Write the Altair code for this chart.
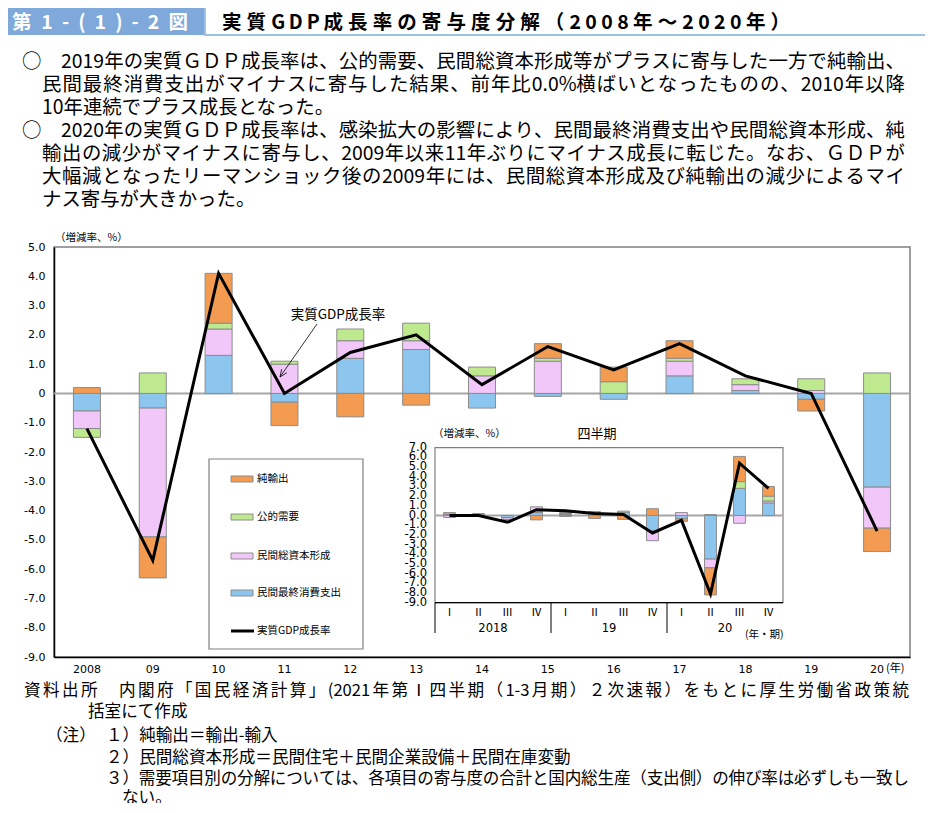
import math
import altair as alt
import pandas as pd

# ---------------- data ----------------
years = ["2008", "09", "10", "11", "12", "13", "14", "15", "16", "17", "18", "19", "20"]
consumption = [-0.6, -0.5, 1.3, -0.3, 1.2, 1.5, -0.5, -0.1, -0.2, 0.6, 0.1, -0.2, -3.2]
investment = [-0.6, -4.4, 0.9, 1.0, 0.6, 0.3, 0.6, 1.1, 0.0, 0.5, 0.2, 0.1, -1.4]
public = [-0.3, 0.7, 0.2, 0.1, 0.4, 0.6, 0.3, 0.1, 0.4, 0.1, 0.2, 0.4, 0.7]
net_exports = [0.2, -1.4, 1.7, -0.8, -0.8, -0.4, 0.0, 0.5, 0.5, 0.6, 0.0, -0.4, -0.8]
gdp_growth = [-1.2, -5.7, 4.1, 0.0, 1.4, 2.0, 0.3, 1.6, 0.8, 1.7, 0.6, 0.0, -4.7]

quarters = ["2018-1", "2018-2", "2018-3", "2018-4", "2019-1", "2019-2", "2019-3", "2019-4",
            "2020-1", "2020-2", "2020-3", "2020-4"]
quarter_labels = ["Ⅰ", "Ⅱ", "Ⅲ", "Ⅳ"] * 3
quarter_years = ["2018", "19", "20"]
q_consumption = [0.0, 0.1, -0.2, 0.3, -0.1, 0.2, 0.3, -1.6, -0.3, -4.5, 2.8, 1.3]
q_investment = [-0.2, 0.0, -0.2, 0.6, 0.1, 0.1, 0.0, -1.0, 0.3, -0.9, -0.8, 0.2]
q_public = [0.1, 0.1, 0.0, 0.0, 0.1, 0.1, 0.15, 0.0, 0.0, 0.1, 0.7, 0.5]
q_net_exports = [0.2, -0.1, -0.1, -0.45, 0.1, -0.3, -0.4, 0.7, -0.3, -2.8, 2.6, 1.0]
q_gdp = [0.0, 0.0, -0.7, 0.6, 0.5, 0.2, 0.1, -1.8, -0.5, -8.1, 5.4, 2.8]

series = ["民間最終消費支出", "民間総資本形成", "公的需要", "純輸出"]
colors = ["#8CC6EF", "#F1C6F9", "#BEE98F", "#F39B50"]
legend_order = ["純輸出", "公的需要", "民間総資本形成", "民間最終消費支出"]
line_name = "実質GDP成長率"

main_ticks = list(range(-9, 6))
inset_ticks = list(range(-9, 8))

header_tag = "第1-(1)-2図"
header_title = "実質GDP成長率の寄与度分解（2008年～2020年）"
para_lines = [
    "○　2019年の実質ＧＤＰ成長率は、公的需要、民間総資本形成等がプラスに寄与した一方で純輸出、",
    "民間最終消費支出がマイナスに寄与した結果、前年比0.0%横ばいとなったものの、2010年以降",
    "10年連続でプラス成長となった。",
    "○　2020年の実質ＧＤＰ成長率は、感染拡大の影響により、民間最終消費支出や民間総資本形成、純",
    "輸出の減少がマイナスに寄与し、2009年以来11年ぶりにマイナス成長に転じた。なお、ＧＤＰが",
    "大幅減となったリーマンショック後の2009年には、民間総資本形成及び純輸出の減少によるマイ",
    "ナス寄与が大きかった。",
]
para_justified = [True, True, False, True, True, True, False]
footer_lines = [
    "資料出所　内閣府「国民経済計算」(2021年第Ⅰ四半期（1-3月期）２次速報）をもとに厚生労働省政策統",
    "括室にて作成",
    "（注）",
    "１）純輸出＝輸出-輸入",
    "２）民間総資本形成＝民間住宅＋民間企業設備＋民間在庫変動",
    "３）需要項目別の分解については、各項目の寄与度の合計と国内総生産（支出側）の伸び率は必ずしも一致し",
    "ない。",
]
footer_x = [24, 88, 46, 106, 106, 106, 122]
footer_y = [691, 712, 736, 736, 758, 779, 798]
footer_justified = [True, False, False, False, False, True, False]

# ---------------- layout helpers ----------------
OX, OY = 54, 247          # page position of main plot origin
W, H = 856, 410
JP = "Noto Sans CJK JP"
NUM = "DejaVu Sans"


def cx(x):
    return x - OX


def cy(y):
    return y - OY


dummy = pd.DataFrame({"d": [0]})

ASCII_W = {".": 0.27, ",": 0.27, "%": 0.86, "(": 0.33, ")": 0.33, "-": 0.33, "G": 0.64,
           "D": 0.66, "P": 0.6, " ": 0.25}


def tokens_of(line, per_char=False):
    if per_char:
        return list(line)
    toks, cur = [], ""
    for ch in line:
        if ord(ch) < 128:
            cur += ch
        else:
            if cur:
                toks.append(cur)
                cur = ""
            toks.append(ch)
    if cur:
        toks.append(cur)
    return toks


def tok_w(tok, size):
    if len(tok) == 1 and ord(tok) >= 128:
        return size
    return sum(ASCII_W.get(c, 0.555) for c in tok) * size


def justified_text(line, x0, x1, yv, size, weight="normal", color="#000", per_char=False):
    toks = tokens_of(line, per_char)
    widths = [tok_w(t, size) for t in toks]
    gap = (cx(x1) - cx(x0) - sum(widths)) / max(len(toks) - 1, 1)
    xs, pos = [], cx(x0)
    for w in widths:
        xs.append(pos)
        pos += w + gap
    df = pd.DataFrame({"t": toks, "x": xs})
    return alt.Chart(df).mark_text(align="left", baseline="middle", font=JP, fontSize=size,
                                   fontWeight=weight, color=color).encode(
        x=alt.X("x:Q", scale=None), y=alt.value(cy(yv)), text="t:N")


def plain_text(line, x0, yv, size, align="left", weight="normal", color="#000", font=JP):
    return alt.Chart(dummy).mark_text(align=align, baseline="middle", font=font, fontSize=size,
                                      fontWeight=weight, color=color).encode(
        x=alt.value(cx(x0)), y=alt.value(cy(yv)), text=alt.value(line))


def long_df(cats, cols):
    rows = []
    for i, c in enumerate(cats):
        for k, (name, vals) in enumerate(cols):
            if vals[i] != 0:
                rows.append({"cat": c, "series": name, "value": vals[i], "ord": k})
    return pd.DataFrame(rows)


annual_df = long_df(years, list(zip(series, [consumption, investment, public, net_exports])))
gdp_df = pd.DataFrame({"cat": years, "gdp": gdp_growth})
q_df = long_df(quarters, list(zip(series, [q_consumption, q_investment, q_public, q_net_exports])))
qgdp_df = pd.DataFrame({"cat": quarters, "gdp": q_gdp, "ql": quarter_labels})

color_scale = alt.Scale(domain=series, range=colors)

# ---------------- main chart ----------------
x_main = alt.Scale(domain=years, paddingInner=0.59, paddingOuter=0.295)
y_main = alt.Scale(domain=[-9, 5], nice=False, zero=False)

neg_label = "datum.value == 0 ? '0' : (datum.value < 0 ? '-' : '') + format(abs(datum.value), '.1f')"
x_axis_main = alt.Axis(title=None, labelAngle=0, ticks=False, domainColor="#000", domainWidth=1.5,
                       labelFont=NUM, labelFontSize=11, labelColor="#000", labelPadding=6)
y_axis_main = alt.Axis(title=None, values=main_ticks, labelExpr=neg_label, ticks=False, grid=False,
                       domainColor="#000", domainWidth=1.5, labelFont=NUM, labelFontSize=11,
                       labelColor="#000", labelPadding=9)

zero_main = alt.Chart(pd.DataFrame({"v": [0]})).mark_rule(color="#a6a6a6", strokeWidth=2).encode(
    y=alt.Y("v:Q", scale=y_main, axis=y_axis_main)
)

bars = alt.Chart(annual_df).mark_bar(stroke="#8c8c8c", strokeWidth=1).encode(
    x=alt.X("cat:N", scale=x_main, sort=years, axis=x_axis_main),
    y=alt.Y("value:Q", scale=y_main, stack="zero", axis=y_axis_main),
    color=alt.Color("series:N", scale=color_scale, legend=None),
    order=alt.Order("ord:Q"),
)

gdp_line = alt.Chart(gdp_df).mark_line(color="#000", strokeWidth=3).encode(
    x=alt.X("cat:N", scale=x_main, sort=years, axis=x_axis_main),
    y=alt.Y("gdp:Q", scale=y_main, axis=y_axis_main),
)

main = alt.layer(zero_main, bars, gdp_line)

# ---------------- inset chart ----------------
IX0, IX1, IY0, IY1 = cx(435), cx(783), cy(447.7), cy(602.7)
x_in = alt.Scale(domain=quarters, range=[IX0, IX1], paddingInner=0.59, paddingOuter=0.295)
y_in = alt.Scale(domain=[-9, 7], range=[IY1, IY0], nice=False, zero=False)
step_in = (IX1 - IX0) / len(quarters)

inset_bg = alt.Chart(dummy).mark_rect(fill="white", stroke="#808080", strokeWidth=1.2).encode(
    x=alt.value(IX0), x2=alt.value(IX1), y=alt.value(IY0), y2=alt.value(IY1)
)
inset_zero = alt.Chart(pd.DataFrame({"v": [0]})).mark_rule(color="#a6a6a6", strokeWidth=2).encode(
    y=alt.Y("v:Q", scale=y_in, axis=None), x=alt.value(IX0), x2=alt.value(IX1)
)
inset_bars = alt.Chart(q_df).mark_bar(stroke="#8c8c8c", strokeWidth=1).encode(
    x=alt.X("cat:N", scale=x_in, sort=quarters, axis=None),
    y=alt.Y("value:Q", scale=y_in, stack="zero", axis=None),
    color=alt.Color("series:N", scale=color_scale, legend=None),
    order=alt.Order("ord:Q"),
)
inset_line = alt.Chart(qgdp_df).mark_line(color="#000", strokeWidth=3).encode(
    x=alt.X("cat:N", scale=x_in, sort=quarters, axis=None),
    y=alt.Y("gdp:Q", scale=y_in, axis=None),
)
inset_bottom = alt.Chart(dummy).mark_rule(color="#000", strokeWidth=1.2).encode(
    x=alt.value(IX0), x2=alt.value(IX1), y=alt.value(IY1)
)
sep_layers = []
for k in range(3):
    xx = IX0 + k * 4 * step_in
    sep_layers.append(alt.Chart(dummy).mark_rule(color="#000", strokeWidth=1).encode(
        x=alt.value(xx), y=alt.value(IY1), y2=alt.value(cy(633))
    ))
inset_ylab = alt.Chart(pd.DataFrame({"t": inset_ticks, "s": [f"{v:.1f}" for v in inset_ticks]})).mark_text(
    align="right", baseline="middle", font=NUM, fontSize=11.5, color="#000"
).encode(y=alt.Y("t:Q", scale=y_in, axis=None), x=alt.value(cx(427)), text="s:N")
inset_qlab = alt.Chart(qgdp_df).mark_text(baseline="middle", font=JP, fontSize=11, color="#000").encode(
    x=alt.X("cat:N", scale=x_in, sort=quarters, axis=None), y=alt.value(cy(613)), text="ql:N"
)
inset_yearlab = alt.Chart(pd.DataFrame({"cat": [quarters[1], quarters[5], quarters[9]], "yl": quarter_years})).mark_text(
    baseline="middle", font=NUM, fontSize=11.5, color="#000", dx=step_in / 2
).encode(x=alt.X("cat:N", scale=x_in, sort=quarters, axis=None), y=alt.value(cy(629)), text="yl:N")

inset = alt.layer(inset_bg, inset_zero, inset_bars, inset_line, inset_bottom, *sep_layers,
                  inset_ylab, inset_qlab, inset_yearlab,
                  plain_text("(年・期)", 745, 635, 10.5),
                  plain_text("四半期", 597, 434, 13, align="center"),
                  plain_text("（増減率、%）", 433, 434, 10.5))

# ---------------- legend, annotations ----------------
deco = []
deco.append(alt.Chart(dummy).mark_rect(fill="white", stroke="#808080", strokeWidth=1.2).encode(
    x=alt.value(cx(209)), x2=alt.value(cx(363)), y=alt.value(cy(459)), y2=alt.value(cy(649))))
leg_y = [479, 517, 556, 593, 631]
for i, name in enumerate(legend_order + [line_name]):
    yy = cy(leg_y[i])
    if name in series:
        deco.append(alt.Chart(dummy).mark_rect(stroke="#8c8c8c", strokeWidth=1).encode(
            x=alt.value(cx(231)), x2=alt.value(cx(253)), y=alt.value(yy - 3), y2=alt.value(yy + 3),
            color=alt.value(colors[series.index(name)])))
    else:
        deco.append(alt.Chart(dummy).mark_rule(color="#000", strokeWidth=3).encode(
            x=alt.value(cx(231)), x2=alt.value(cx(254)), y=alt.value(yy)))
    deco.append(plain_text(name, 257, leg_y[i], 10.5))

# annotation with arrow
deco.append(plain_text(line_name, 338, 315, 13.5, align="center"))
ax0, ay0, ax1, ay1 = cx(317), cy(324), cx(280), cy(377)
deco.append(alt.Chart(dummy).mark_rule(color="#000", strokeWidth=0.8).encode(
    x=alt.value(ax0), y=alt.value(ay0), x2=alt.value(ax1), y2=alt.value(ay1)))
ang = math.atan2(ay1 - ay0, ax1 - ax0)
for s in (1, -1):
    a = ang + math.pi + s * 0.4
    deco.append(alt.Chart(dummy).mark_rule(color="#000", strokeWidth=0.8).encode(
        x=alt.value(ax1), y=alt.value(ay1),
        x2=alt.value(ax1 + 8 * math.cos(a)), y2=alt.value(ay1 + 8 * math.sin(a))))

deco.append(plain_text("（増減率、%）", 55, 238, 10.5))
deco.append(plain_text("(年)", 886, 669, 11))

# header
deco.append(alt.Chart(dummy).mark_rect(fill="#7FA9DA").encode(
    x=alt.value(cx(0)), x2=alt.value(cx(205)), y=alt.value(cy(0)), y2=alt.value(cy(35))))
deco.append(alt.Chart(dummy).mark_rect(fill="white", stroke="#9CC2E8", strokeWidth=2).encode(
    x=alt.value(cx(205)), x2=alt.value(cx(931)), y=alt.value(cy(1)), y2=alt.value(cy(35))))
deco.append(justified_text(header_tag, 12, 188, 22.5, 19.5, weight="bold", color="white", per_char=True))
deco.append(justified_text(header_title, 222, 790, 22.5, 19.5, weight="bold", per_char=True))

for i, line in enumerate(para_lines):
    x0 = 22 if line.startswith("○") else 42
    yv = 62 + 23 * i
    if para_justified[i]:
        deco.append(justified_text(line, x0, 905, yv, 19.4))
    else:
        deco.append(plain_text(line, x0, yv, 19.4))

for line, x0, yv, jus in zip(footer_lines, footer_x, footer_y, footer_justified):
    if jus:
        deco.append(justified_text(line, x0, 909, yv, 16.6))
    else:
        deco.append(plain_text(line, x0, yv, 16.6))

chart = alt.layer(main, inset, *deco).resolve_scale(x="independent", y="independent").properties(
    width=W, height=H,
    padding={"left": OX - 8, "top": OY - 8, "right": 15, "bottom": 146},
    autosize=alt.AutoSizeParams(type="none"),
).configure_view(stroke="#7f7f7f", strokeWidth=1.5)

chart.save("out.html", embed_options={"renderer": "svg", "actions": False})
